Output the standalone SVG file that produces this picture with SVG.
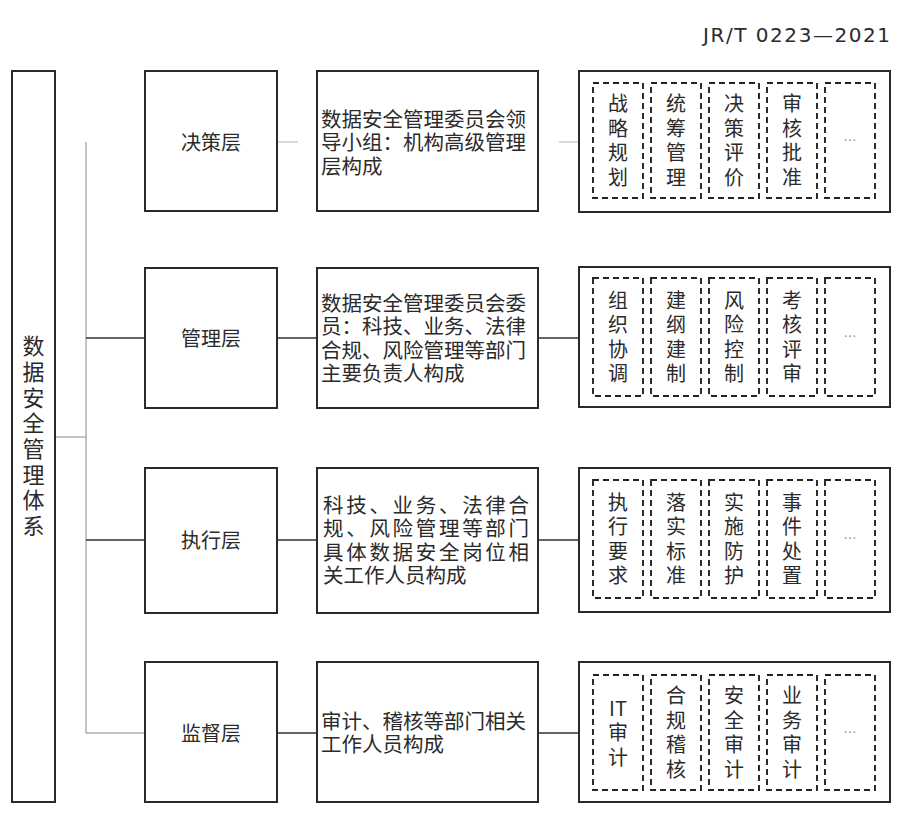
<svg xmlns="http://www.w3.org/2000/svg" width="908" height="814" viewBox="0 0 908 814">
<style>
text{font-family:"Noto Sans CJK SC","Noto Sans",sans-serif;fill:#2b2b2b}
.box{fill:#fff;stroke:#2a2a2a;stroke-width:2}
.dash{fill:none;stroke:#222;stroke-width:1.9;stroke-dasharray:6 4}
.v{font-size:20px;text-anchor:middle}
.lay{font-size:20px;text-anchor:middle}
.desc{font-size:20.5px}
.ell{font-size:13px;fill:#999;text-anchor:middle}
.ln{stroke:#333;stroke-width:1.3;fill:none}
.lt{stroke:#8a8a8a;stroke-width:1;fill:none}
.lf{stroke:#b0b0b0;stroke-width:1;fill:none}
</style>
<rect width="908" height="814" fill="#fff"/>
<text x="890" y="42" text-anchor="end" font-size="20" textLength="187" style="font-family:'DejaVu Sans',sans-serif" fill="#333">JR/T 0223—2021</text>

<g id="connectors">
<path class="lt" d="M86 142V733"/>
<path class="lt" d="M55 437H86"/>
<path class="lf" d="M277 142H298"/>
<path class="lf" d="M559 142H579"/>
<path class="ln" d="M86 338H145M277 338H317M538 338H579"/>
<path class="ln" d="M86 540H145M277 540H317M538 540H579"/>
<path class="lt" d="M86 733H145"/>
<path class="ln" d="M277 733H317M538 733H579"/>
</g>

<g id="root">
<rect class="box" x="12" y="71" width="43" height="731"/>
<text font-size="22" text-anchor="middle">
<tspan x="33.5" y="354.2">数</tspan><tspan x="33.5" y="379.9">据</tspan><tspan x="33.5" y="405.6">安</tspan><tspan x="33.5" y="431.3">全</tspan><tspan x="33.5" y="457">管</tspan><tspan x="33.5" y="482.7">理</tspan><tspan x="33.5" y="508.4">体</tspan><tspan x="33.5" y="534.1">系</tspan>
</text>
</g>

<!-- Row 1 -->
<g id="layer-decision">
<rect class="box" x="145" y="71" width="132" height="140"/>
<text class="lay" x="211" y="149.5">决策层</text>
</g>
<g id="desc-decision">
<rect class="box" x="317" y="71" width="221" height="140"/>
<text class="desc" x="321" y="126.7">数据安全管理委员会领</text>
<text class="desc" x="321" y="150.2">导小组：机构高级管理</text>
<text class="desc" x="321" y="173.7">层构成</text>
</g>
<g id="duty-decision">
<rect class="box" x="579" y="71" width="311" height="141"/>
<rect class="dash" x="593" y="83" width="50" height="115"/>
<rect class="dash" x="651" y="83" width="50" height="115"/>
<rect class="dash" x="709" y="83" width="50" height="115"/>
<rect class="dash" x="767" y="83" width="50" height="115"/>
<rect class="dash" x="825" y="83" width="50" height="115"/>
<text class="v"><tspan x="618" y="111.3">战</tspan><tspan x="618" y="135.8">略</tspan><tspan x="618" y="160.3">规</tspan><tspan x="618" y="184.8">划</tspan></text>
<text class="v"><tspan x="676" y="111.3">统</tspan><tspan x="676" y="135.8">筹</tspan><tspan x="676" y="160.3">管</tspan><tspan x="676" y="184.8">理</tspan></text>
<text class="v"><tspan x="734" y="111.3">决</tspan><tspan x="734" y="135.8">策</tspan><tspan x="734" y="160.3">评</tspan><tspan x="734" y="184.8">价</tspan></text>
<text class="v"><tspan x="792" y="111.3">审</tspan><tspan x="792" y="135.8">核</tspan><tspan x="792" y="160.3">批</tspan><tspan x="792" y="184.8">准</tspan></text>
<text class="ell" x="850" y="144.5">…</text>
</g>

<!-- Row 2 -->
<g id="layer-management">
<rect class="box" x="145" y="268" width="132" height="140"/>
<text class="lay" x="211" y="345.5">管理层</text>
</g>
<g id="desc-management">
<rect class="box" x="317" y="268" width="221" height="140"/>
<text class="desc" x="321" y="310.7">数据安全管理委员会委</text>
<text class="desc" x="321" y="334.2">员：科技、业务、法律</text>
<text class="desc" x="321" y="357.7">合规、风险管理等部门</text>
<text class="desc" x="321" y="381.2">主要负责人构成</text>
</g>
<g id="duty-management">
<rect class="box" x="579" y="267" width="311" height="140"/>
<rect class="dash" x="593" y="278" width="50" height="118"/>
<rect class="dash" x="651" y="278" width="50" height="118"/>
<rect class="dash" x="709" y="278" width="50" height="118"/>
<rect class="dash" x="767" y="278" width="50" height="118"/>
<rect class="dash" x="825" y="278" width="50" height="118"/>
<text class="v"><tspan x="618" y="307.8">组</tspan><tspan x="618" y="332.3">织</tspan><tspan x="618" y="356.8">协</tspan><tspan x="618" y="381.3">调</tspan></text>
<text class="v"><tspan x="676" y="307.8">建</tspan><tspan x="676" y="332.3">纲</tspan><tspan x="676" y="356.8">建</tspan><tspan x="676" y="381.3">制</tspan></text>
<text class="v"><tspan x="734" y="307.8">风</tspan><tspan x="734" y="332.3">险</tspan><tspan x="734" y="356.8">控</tspan><tspan x="734" y="381.3">制</tspan></text>
<text class="v"><tspan x="792" y="307.8">考</tspan><tspan x="792" y="332.3">核</tspan><tspan x="792" y="356.8">评</tspan><tspan x="792" y="381.3">审</tspan></text>
<text class="ell" x="850" y="341">…</text>
</g>

<!-- Row 3 -->
<g id="layer-execution">
<rect class="box" x="145" y="468" width="132" height="145"/>
<text class="lay" x="211" y="547.5">执行层</text>
</g>
<g id="desc-execution">
<rect class="box" x="317" y="468" width="221" height="145"/>
<text class="desc" x="323" y="512.7" textLength="206" lengthAdjust="spacing">科技、业务、法律合</text>
<text class="desc" x="323" y="536.2" textLength="206" lengthAdjust="spacing">规、风险管理等部门</text>
<text class="desc" x="323" y="559.7" textLength="206" lengthAdjust="spacing">具体数据安全岗位相</text>
<text class="desc" x="323" y="583.2">关工作人员构成</text>
</g>
<g id="duty-execution">
<rect class="box" x="579" y="468" width="311" height="144"/>
<rect class="dash" x="593" y="480" width="50" height="118"/>
<rect class="dash" x="651" y="480" width="50" height="118"/>
<rect class="dash" x="709" y="480" width="50" height="118"/>
<rect class="dash" x="767" y="480" width="50" height="118"/>
<rect class="dash" x="825" y="480" width="50" height="118"/>
<text class="v"><tspan x="618" y="509.8">执</tspan><tspan x="618" y="534.3">行</tspan><tspan x="618" y="558.8">要</tspan><tspan x="618" y="583.3">求</tspan></text>
<text class="v"><tspan x="676" y="509.8">落</tspan><tspan x="676" y="534.3">实</tspan><tspan x="676" y="558.8">标</tspan><tspan x="676" y="583.3">准</tspan></text>
<text class="v"><tspan x="734" y="509.8">实</tspan><tspan x="734" y="534.3">施</tspan><tspan x="734" y="558.8">防</tspan><tspan x="734" y="583.3">护</tspan></text>
<text class="v"><tspan x="792" y="509.8">事</tspan><tspan x="792" y="534.3">件</tspan><tspan x="792" y="558.8">处</tspan><tspan x="792" y="583.3">置</tspan></text>
<text class="ell" x="850" y="543">…</text>
</g>

<!-- Row 4 -->
<g id="layer-supervision">
<rect class="box" x="145" y="662" width="132" height="140"/>
<text class="lay" x="211" y="740.5">监督层</text>
</g>
<g id="desc-supervision">
<rect class="box" x="317" y="662" width="221" height="140"/>
<text class="desc" x="321" y="728.7">审计、稽核等部门相关</text>
<text class="desc" x="321" y="752.2">工作人员构成</text>
</g>
<g id="duty-supervision">
<rect class="box" x="579" y="662" width="311" height="140"/>
<rect class="dash" x="593" y="675" width="50" height="115"/>
<rect class="dash" x="651" y="675" width="50" height="115"/>
<rect class="dash" x="709" y="675" width="50" height="115"/>
<rect class="dash" x="767" y="675" width="50" height="115"/>
<rect class="dash" x="825" y="675" width="50" height="115"/>
<text class="v"><tspan x="618" y="715.5">IT</tspan><tspan x="618" y="740">审</tspan><tspan x="618" y="764.5">计</tspan></text>
<text class="v"><tspan x="676" y="703.3">合</tspan><tspan x="676" y="727.8">规</tspan><tspan x="676" y="752.3">稽</tspan><tspan x="676" y="776.8">核</tspan></text>
<text class="v"><tspan x="734" y="703.3">安</tspan><tspan x="734" y="727.8">全</tspan><tspan x="734" y="752.3">审</tspan><tspan x="734" y="776.8">计</tspan></text>
<text class="v"><tspan x="792" y="703.3">业</tspan><tspan x="792" y="727.8">务</tspan><tspan x="792" y="752.3">审</tspan><tspan x="792" y="776.8">计</tspan></text>
<text class="ell" x="850" y="736.5">…</text>
</g>
</svg>
